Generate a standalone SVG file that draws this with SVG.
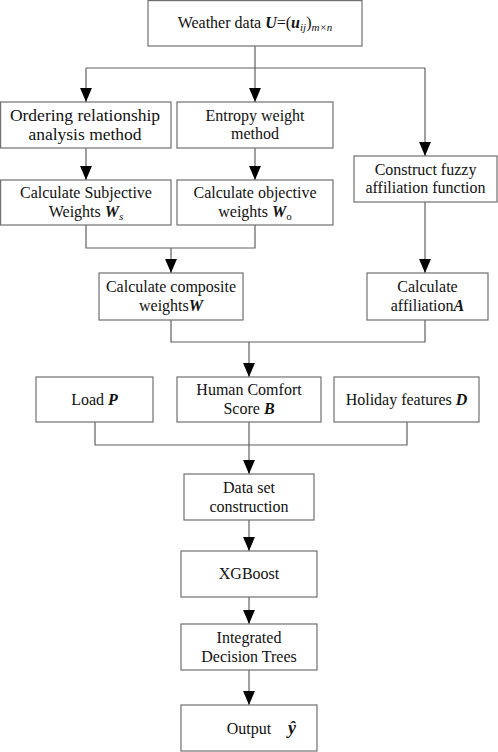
<svg xmlns="http://www.w3.org/2000/svg" width="498" height="752" viewBox="0 0 498 752">
<style>
.box{fill:#fff;stroke:#707070;stroke-width:1.2}
.ln{fill:none;stroke:#606060;stroke-width:1.2}
text{font-family:"Liberation Serif","Times New Roman",serif;font-size:16px;fill:#111;text-anchor:middle}
.bi{font-weight:bold;font-style:italic}
.it{font-style:italic}
</style>
<defs>
<marker id="ah" markerUnits="userSpaceOnUse" markerWidth="14" markerHeight="12" refX="13" refY="5.5" orient="auto" viewBox="0 0 13 11">
<path d="M0,0 L13,5.5 L0,11 Z" fill="#000"/>
</marker>
</defs>
<rect width="498" height="752" fill="#fff"/>
<g id="connectors">
<path class="ln" d="M255,46 V68 M86,68 H425"/>
<line class="ln" x1="86" y1="68" x2="86" y2="102" marker-end="url(#ah)"/>
<line class="ln" x1="255" y1="68" x2="255" y2="102" marker-end="url(#ah)"/>
<line class="ln" x1="425" y1="68" x2="425" y2="156" marker-end="url(#ah)"/>
<line class="ln" x1="86" y1="148" x2="86" y2="180" marker-end="url(#ah)"/>
<line class="ln" x1="255" y1="148" x2="255" y2="180" marker-end="url(#ah)"/>
<path class="ln" d="M86,225 V248 H255 V225"/>
<line class="ln" x1="171" y1="248" x2="171" y2="273" marker-end="url(#ah)"/>
<line class="ln" x1="425" y1="202" x2="425" y2="273" marker-end="url(#ah)"/>
<path class="ln" d="M171,320 V342 H425 V320"/>
<line class="ln" x1="249" y1="342" x2="249" y2="377" marker-end="url(#ah)"/>
<path class="ln" d="M95,422 V445 H407 V422 M249,422 V445"/>
<line class="ln" x1="249" y1="445" x2="249" y2="474" marker-end="url(#ah)"/>
<line class="ln" x1="249" y1="520" x2="249" y2="551" marker-end="url(#ah)"/>
<line class="ln" x1="249" y1="597" x2="249" y2="624" marker-end="url(#ah)"/>
<line class="ln" x1="249" y1="670" x2="249" y2="705" marker-end="url(#ah)"/>
</g>
<g id="weather">
<rect class="box" x="148" y="0.6" width="214" height="45.4"/>
<text x="255" y="28">Weather data <tspan class="bi">U</tspan>=(<tspan class="bi">u</tspan><tspan class="it" font-size="11" dy="3">ij</tspan><tspan dy="-3">)</tspan><tspan class="it" font-size="11" dy="3">m×n</tspan></text>
</g>
<g id="ordering">
<rect class="box" x="0.6" y="102" width="170.4" height="46"/>
<text x="85" y="121" style="font-size:17.5px">Ordering relationship</text>
<text x="85" y="140" style="font-size:17.5px">analysis method</text>
</g>
<g id="entropy">
<rect class="box" x="177" y="102" width="156" height="46"/>
<text x="255" y="121">Entropy weight</text>
<text x="255" y="139">method</text>
</g>
<g id="fuzzy">
<rect class="box" x="354" y="156" width="143" height="46"/>
<text x="425.5" y="175">Construct fuzzy</text>
<text x="425.5" y="193">affiliation function</text>
</g>
<g id="subjective">
<rect class="box" x="0.6" y="180" width="170.4" height="45"/>
<text x="86" y="198">Calculate Subjective</text>
<text x="86" y="217">Weights <tspan class="bi">W</tspan><tspan class="it" font-size="11" dy="3">s</tspan></text>
</g>
<g id="objective">
<rect class="box" x="177" y="180" width="156" height="45"/>
<text x="255" y="198">Calculate objective</text>
<text x="255" y="217">weights <tspan class="bi">W</tspan><tspan font-size="11" dy="3">o</tspan></text>
</g>
<g id="composite">
<rect class="box" x="99" y="273" width="144" height="47"/>
<text x="171" y="292">Calculate composite</text>
<text x="171" y="311">weights<tspan class="bi">W</tspan></text>
</g>
<g id="affiliation">
<rect class="box" x="367" y="273" width="121" height="47"/>
<text x="427.5" y="292">Calculate</text>
<text x="427.5" y="311">affiliation<tspan class="bi">A</tspan></text>
</g>
<g id="load">
<rect class="box" x="36" y="377" width="117" height="45"/>
<text x="94.5" y="405">Load <tspan class="bi">P</tspan></text>
</g>
<g id="comfort">
<rect class="box" x="177" y="377" width="144" height="45"/>
<text x="249" y="395">Human Comfort</text>
<text x="249" y="414">Score <tspan class="bi">B</tspan></text>
</g>
<g id="holiday">
<rect class="box" x="334" y="377" width="145" height="45"/>
<text x="406.5" y="405">Holiday features <tspan class="bi">D</tspan></text>
</g>
<g id="dataset">
<rect class="box" x="184" y="474" width="130" height="46"/>
<text x="249" y="493">Data set</text>
<text x="249" y="512">construction</text>
</g>
<g id="xgboost">
<rect class="box" x="181" y="551" width="136" height="46"/>
<text x="249" y="579">XGBoost</text>
</g>
<g id="trees">
<rect class="box" x="181" y="624" width="136" height="46"/>
<text x="249" y="643">Integrated</text>
<text x="249" y="662">Decision Trees</text>
</g>
<g id="output">
<rect class="box" x="181" y="705" width="136" height="46"/>
<text x="249" y="734">Output</text>
<text x="292" y="734" class="bi" style="font-size:18px">ŷ</text>
</g>
</svg>
